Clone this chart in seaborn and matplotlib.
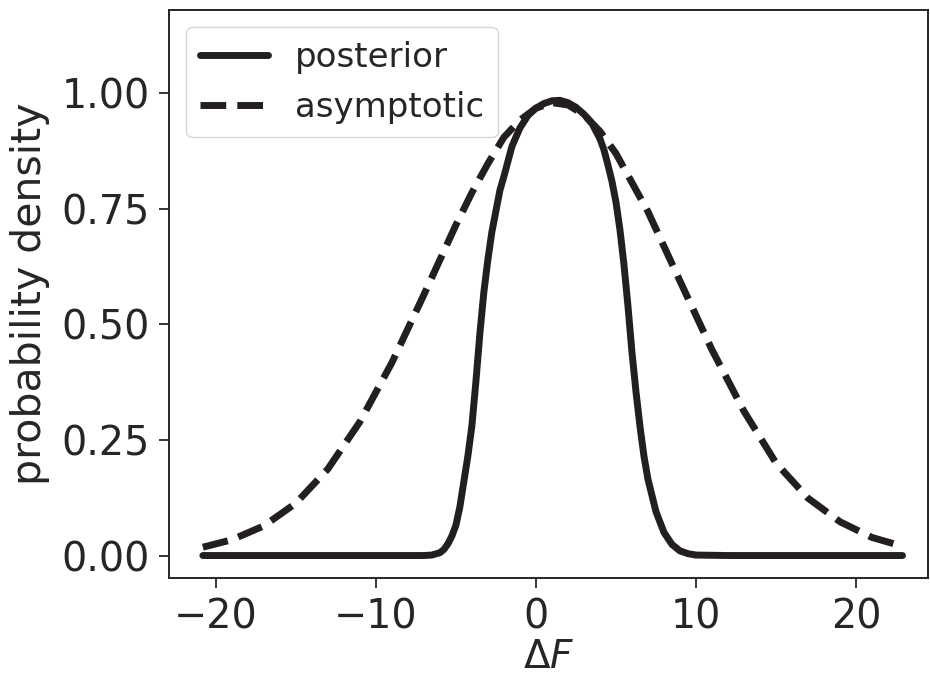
import numpy as np
import pandas as pd
import matplotlib
matplotlib.use("Agg")
import matplotlib.pyplot as plt
import seaborn as sns

# ---- values ----
post_x = [-20.8, -16, -12, -8, -7, -6.5, -6, -5.75, -5.5, -5.25, -5, -4.75, -4.5,
          -4.25, -4, -3.75, -3.5, -3.25, -3, -2.75, -2.5, -2.25, -2, -1.5, -1,
          -0.5, 0, 0.5, 1, 1.5, 2, 2.5, 3, 3.5, 4, 4.25, 4.5, 4.75, 5, 5.25,
          5.5, 5.75, 6, 6.25, 6.5, 6.75, 7, 7.5, 8, 8.5, 9, 9.5, 10, 12, 16,
          20, 22.9]
post_y = [0.0, 0.0, 0.0, 0.0, 0.0, 0.001, 0.006, 0.013, 0.025, 0.042, 0.065,
          0.105, 0.16, 0.215, 0.28, 0.375, 0.48, 0.57, 0.64, 0.70, 0.745, 0.79,
          0.82, 0.885, 0.925, 0.952, 0.968, 0.978, 0.984, 0.985, 0.98, 0.97,
          0.955, 0.935, 0.902, 0.878, 0.845, 0.81, 0.765, 0.705, 0.63, 0.54,
          0.44, 0.355, 0.28, 0.215, 0.165, 0.095, 0.05, 0.024, 0.01, 0.004,
          0.001, 0.0, 0.0, 0.0, 0.0]

asym_x = [-20.8, -19, -17, -15, -13, -11, -9, -7, -5, -4, -3, -2, -1, 0, 1, 2,
          3, 4, 5, 7, 9, 11, 13, 15, 17, 19, 21, 22.9]
asym_y = [0.018, 0.034, 0.064, 0.113, 0.187, 0.289, 0.417, 0.564, 0.715, 0.785,
          0.848, 0.905, 0.942, 0.968, 0.98, 0.975, 0.954, 0.918, 0.870, 0.744,
          0.594, 0.445, 0.312, 0.200, 0.124, 0.073, 0.039, 0.020]

ytick_vals = [0.0, 0.25, 0.5, 0.75, 1.0]
ytick_labels = ["0.00", "0.25", "0.50", "0.75", "1.00"]
xtick_vals = [-20, -10, 0, 10, 20]

sns.set_style("ticks")
plt.rcParams["font.family"] = ["DejaVu Sans"]
plt.rcParams["axes.edgecolor"] = "#262626"
plt.rcParams["axes.linewidth"] = 1.4

line_color = "#231f20"

fig, ax = plt.subplots(figsize=(9.3, 6.81), dpi=100)
fig.subplots_adjust(left=0.182, right=0.998, bottom=0.151, top=0.985)

post = pd.DataFrame({"dF": post_x, "p": post_y})
asym = pd.DataFrame({"dF": asym_x, "p": asym_y})

sns.lineplot(data=post, x="dF", y="p", ax=ax, color=line_color, lw=5,
             label="posterior")
sns.lineplot(data=asym, x="dF", y="p", ax=ax, color=line_color, lw=5,
             linestyle="--", label="asymptotic")

ax.set_xlim(-22.9, 24.5)
ax.set_ylim(-0.049, 1.18)
ax.set_xticks(xtick_vals)
ax.set_yticks(ytick_vals)
ax.set_yticklabels(ytick_labels)
ax.tick_params(labelsize=28.5, length=7, width=1.3, colors="#262626",
               labelcolor="#262626", pad=7)

ax.set_xlabel(r"$\Delta F$", fontsize=28, color="#262626", labelpad=0)
ax.set_ylabel("probability density", fontsize=29.5, color="#262626",
              labelpad=8)

ax.legend(loc="upper left", fontsize=24.5, frameon=True, handlelength=2.0)

fig.savefig("out.png", dpi=100)
